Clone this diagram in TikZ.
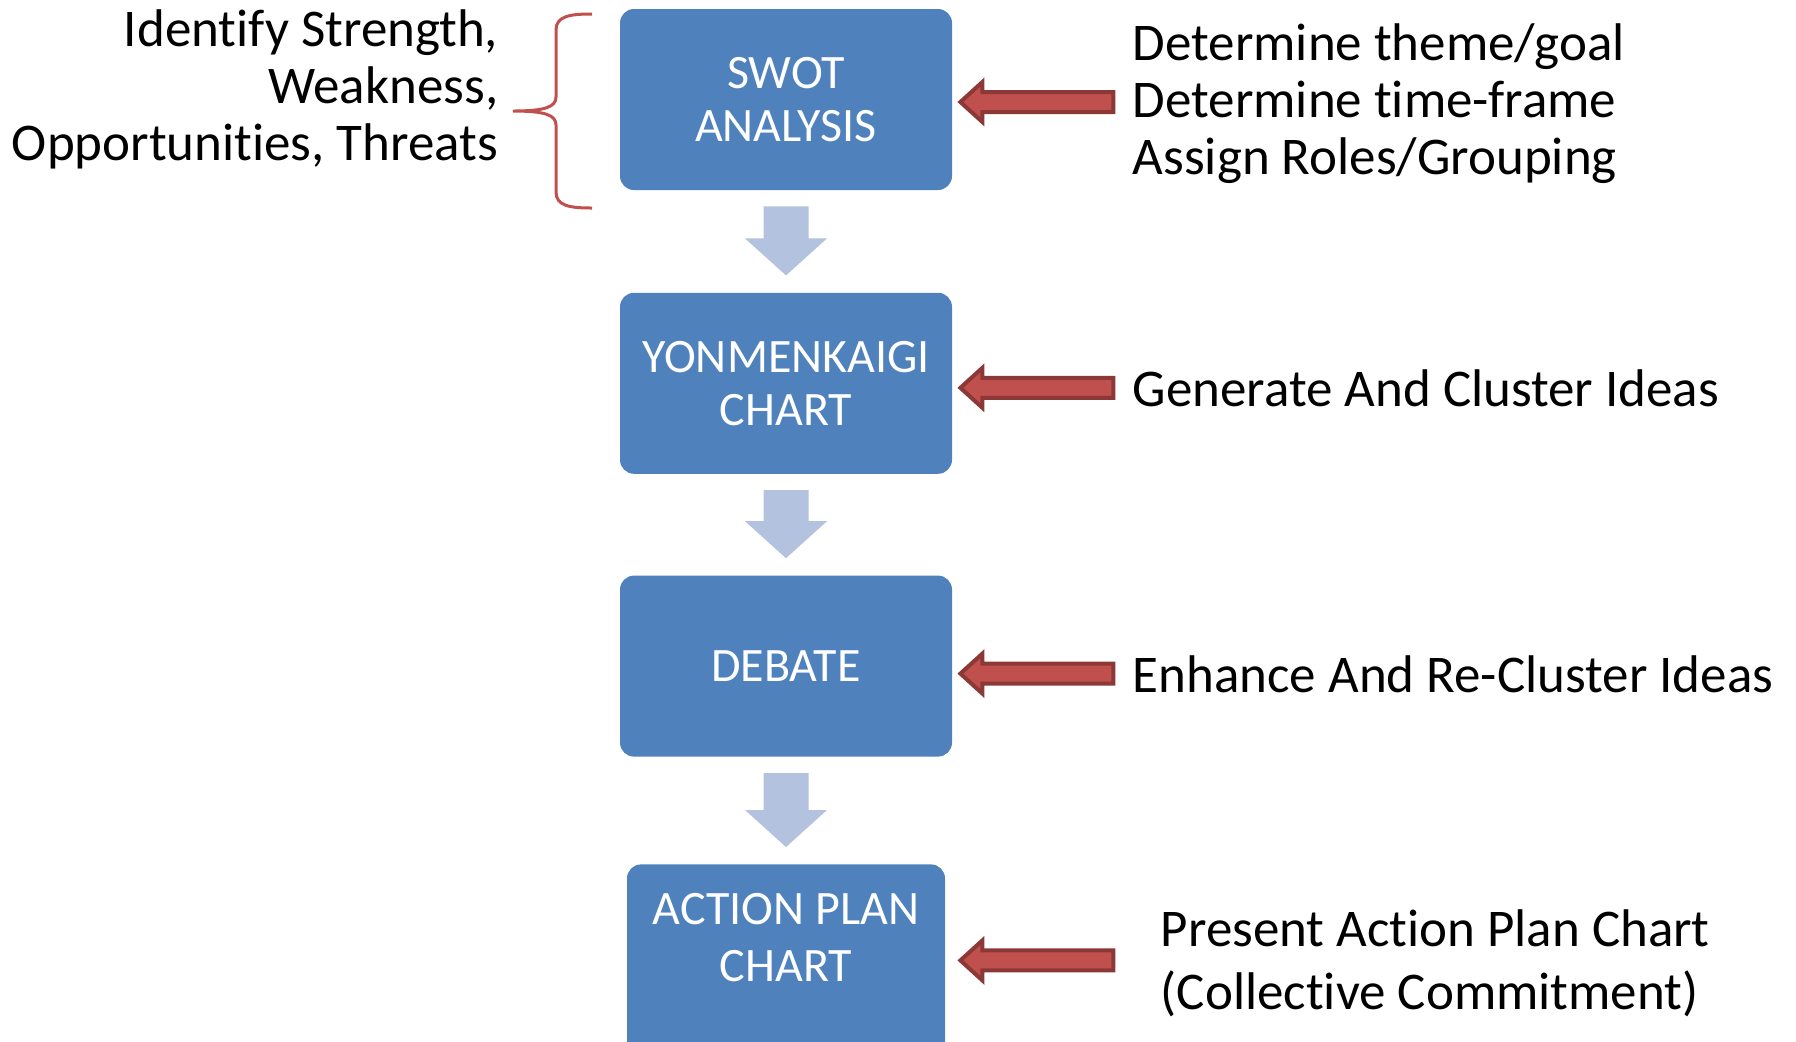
\documentclass[tikz,border=0pt]{standalone}
\usepackage{fontspec}
\setmainfont{Carlito}[Ligatures=NoCommon]
\usepackage{tikz}
\usetikzlibrary{positioning,calc}

\definecolor{boxblue}{HTML}{4F81BD}
\definecolor{flowblue}{HTML}{B3C2DE}
\definecolor{arrowred}{HTML}{C0504D}
\definecolor{arrowdark}{HTML}{8C3836}

\begin{document}
\begin{tikzpicture}
[
   x=0.5pt, y=-0.5pt,
   every node/.style={inner sep=0pt}
]

\tikzset{stage/.style = {shape=rectangle, rounded corners=7pt, fill=boxblue, text=white, minimum width=166pt, minimum height=90.5pt, align=center, font=\fontsize{24}{26.5}\selectfont}}
\tikzset{note/.style = {align=left, anchor=west, font=\fontsize{26.5}{28.5}\selectfont}}
\tikzset{flow/.style = {fill=flowblue}}
\tikzset{pointer/.style = {fill=arrowred, draw=arrowdark, line width=2pt, line join=miter}}
\tikzset{brace/.style = {draw=arrowred, line width=1.5pt}}

\useasboundingbox (0,0) rectangle (1796,1041);
% nodes
\node[stage] (swot) at (786,99.5) {SWOT\\ANALYSIS};
\node[stage] (yon) [below=51pt of swot] {YONMENKAIGI\\CHART};
\node[stage] (deb) [below=50.5pt of yon] {DEBATE};
\node[stage, minimum width=159pt, minimum height=100pt, text depth=27pt, font=\fontsize{24}{28.5}\selectfont] (act) [below=53.5pt of deb] {ACTION PLAN\\CHART};

\node[note] (theme) [right=90pt of swot, yshift=-2pt] {Determine theme/goal\\Determine time-frame\\Assign Roles/Grouping};
\node[note] (ideas) [right=90pt of yon, yshift=-2.5pt] {Generate And Cluster Ideas};
\node[note] (recluster) [right=90pt of deb, yshift=-4pt] {Enhance And Re-Cluster Ideas};
\node[note, font=\fontsize{26.5}{31.5}\selectfont] (present) [right=107.5pt of act, yshift=0.5pt] {Present Action Plan Chart\\(Collective Commitment)};
\node[note, align=right] (swotitems) [left=60.5pt of swot, yshift=5pt] {Identify Strength,\\Weakness,\\Opportunities, Threats};

% arcs
\foreach \a/\b in {swot/yon,yon/deb,deb/act}
   \fill[flow] ($(\a.south)+(-22.5,16)$) -- ($(\a.south)+(22.5,16)$) -- ($(\b.north)+(22.5,-54)$) -- ($(\b.north)+(41,-54)$)
      -- ($(\b.north)+(0,-17)$) -- ($(\b.north)+(-41,-54)$) -- ($(\b.north)+(-22.5,-54)$) -- cycle;

\foreach \n/\dy in {swot/2.5,yon/4.5,deb/7.5,act/-4}
   \draw[pointer] ($(swot.east |- \n.east)+(8,\dy)$) -- ++(22,-20) -- ++(0,10) -- ++(131,0) -- ++(0,20) -- ++(-131,0) -- ++(0,10) -- cycle;

% brace
\draw[brace] (592,14) .. controls (570,14) and (556,16) .. (556,30) -- (556,97)
   .. controls (556,107) and (545,111) .. (513,111) .. controls (545,111) and (556,115) .. (556,125)
   -- (556,192) .. controls (556,206) and (570,208) .. (592,208);
\end{tikzpicture}
\end{document}
